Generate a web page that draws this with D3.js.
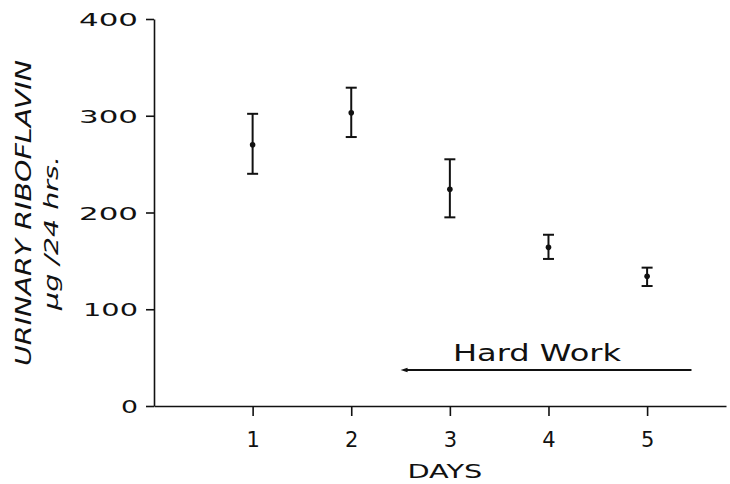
<!DOCTYPE html>
<html>
<head>
<meta charset="utf-8">
<script src="https://cdn.jsdelivr.net/npm/d3@7"></script>
<style>
  html, body { margin: 0; padding: 0; background: #fff; }
  svg { display: block; }
  text { font-family: "DejaVu Sans", sans-serif; fill: #111; }
</style>
</head>
<body>
<script>
// Urinary riboflavin excretion by day (mean with range)
const days = [1, 2, 3, 4, 5];
const means = [270, 303, 224, 164, 134];
const upper = [302, 329, 255, 177, 143];
const lower = [240, 278, 195, 152, 124];
const yTicks = [0, 100, 200, 300, 400];
const xTickLabels = ["1", "2", "3", "4", "5"];
const hardWorkSpan = [2.5, 5.45];
const hardWorkLabel = "Hard Work";

const W = 730, H = 484;
const svg = d3.select("body").append("svg").attr("width", W).attr("height", H);

const x = d3.scaleLinear().domain([0, 5.8]).range([154, 726]);
const y = d3.scaleLinear().domain([0, 400]).range([406, 19]);

const ink = "#111";

// y axis
const gy = svg.append("g").attr("transform", `translate(${x(0)},0)`)
  .call(d3.axisLeft(y).tickValues(yTicks).tickSize(8).tickSizeOuter(0).tickFormat(d3.format("d")));
gy.selectAll("path, line").attr("stroke", ink).attr("stroke-width", 1.6);
gy.selectAll("text")
  .attr("x", -16).attr("dy", null).attr("y", 6.5)
  .attr("font-size", 18).attr("fill", ink)
  .attr("textLength", function(d) { const s = String(d); return s === "0" ? 17 : (s[0] === "1" ? 55 : 59); })
  .attr("lengthAdjust", "spacingAndGlyphs");

// x axis
const gx = svg.append("g").attr("transform", `translate(0,${y(0)})`)
  .call(d3.axisBottom(x).tickValues(days).tickSize(10).tickSizeOuter(0)
    .tickFormat((d, i) => xTickLabels[i]));
gx.selectAll("path, line").attr("stroke", ink).attr("stroke-width", 1.6);
gx.selectAll("text").attr("dy", null).attr("y", 41).attr("font-size", 21).attr("fill", ink);

// axis titles
svg.append("text")
  .attr("x", x(2.95)).attr("y", 478)
  .attr("text-anchor", "middle").attr("font-size", 19)
  .attr("textLength", 75).attr("lengthAdjust", "spacingAndGlyphs")
  .text("DAYS");

svg.append("text")
  .attr("transform", "rotate(-90)")
  .attr("x", -213).attr("y", 31)
  .attr("text-anchor", "middle").attr("font-size", 21).attr("font-style", "italic")
  .attr("textLength", 306).attr("lengthAdjust", "spacingAndGlyphs")
  .text("URINARY  RIBOFLAVIN");

svg.append("text")
  .attr("transform", "rotate(-90)")
  .attr("x", -233).attr("y", 58)
  .attr("text-anchor", "middle").attr("font-size", 19).attr("font-style", "italic")
  .attr("textLength", 154).attr("lengthAdjust", "spacingAndGlyphs")
  .text("\u03bcg /24 hrs.");

// error bars
const bars = svg.append("g").selectAll("g").data(days).join("g");
bars.append("line")
  .attr("x1", d => x(d)).attr("x2", d => x(d))
  .attr("y1", (d, i) => y(upper[i])).attr("y2", (d, i) => y(lower[i]))
  .attr("stroke", ink).attr("stroke-width", 2);
bars.append("line")
  .attr("x1", d => x(d) - 5.5).attr("x2", d => x(d) + 5.5)
  .attr("y1", (d, i) => y(upper[i])).attr("y2", (d, i) => y(upper[i]))
  .attr("stroke", ink).attr("stroke-width", 2);
bars.append("line")
  .attr("x1", d => x(d) - 5.5).attr("x2", d => x(d) + 5.5)
  .attr("y1", (d, i) => y(lower[i])).attr("y2", (d, i) => y(lower[i]))
  .attr("stroke", ink).attr("stroke-width", 2);
bars.append("circle")
  .attr("cx", d => x(d)).attr("cy", (d, i) => y(means[i]))
  .attr("r", 2.8).attr("fill", ink);

// hard work period
const hwY = 370;
svg.append("line")
  .attr("x1", x(hardWorkSpan[0]) + 4).attr("x2", x(hardWorkSpan[1]))
  .attr("y1", hwY).attr("y2", hwY)
  .attr("stroke", ink).attr("stroke-width", 1.8);
svg.append("path")
  .attr("d", `M${x(hardWorkSpan[0])},${hwY} l7,-2.2 l0,4.4 Z`)
  .attr("fill", ink);
svg.append("text")
  .attr("x", 537).attr("y", 361)
  .attr("text-anchor", "middle").attr("font-size", 23)
  .attr("textLength", 168).attr("lengthAdjust", "spacingAndGlyphs")
  .text(hardWorkLabel);
</script>
</body>
</html>
